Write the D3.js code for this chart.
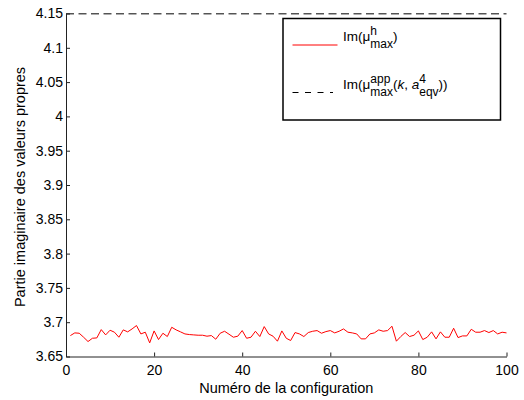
<!DOCTYPE html>
<html><head><meta charset="utf-8">
<script src="https://cdn.jsdelivr.net/npm/d3@7"></script>
<style>
body{margin:0;background:#fff;}
text{font-family:"Liberation Sans",Arial,Helvetica,sans-serif;fill:#000;white-space:pre;}
</style></head>
<body>
<svg id="c" width="524" height="400"></svg>
<script>
const configs = d3.range(1, 101);
const imHmax = [
3.6805,3.6844,3.6839,3.6781,3.6718,3.6766,3.6771,3.6892,3.6815,3.6883,
3.6854,3.6781,3.6888,3.6859,3.6902,3.6951,3.6829,3.6854,3.6699,3.6873,
3.6747,3.6839,3.6791,3.6926,3.6888,3.6859,3.6829,3.6820,3.6815,3.6810,
3.6810,3.6796,3.6805,3.6752,3.6839,3.6868,3.6825,3.6781,3.6796,3.6878,
3.6766,3.6781,3.6868,3.6791,3.6936,3.6829,3.6796,3.6723,3.6873,3.6766,
3.6733,3.6849,3.6829,3.6791,3.6849,3.6868,3.6878,3.6839,3.6863,3.6878,
3.6844,3.6868,3.6902,3.6854,3.6844,3.6829,3.6757,3.6757,3.6829,3.6844,
3.6888,3.6868,3.6878,3.6941,3.6723,3.6791,3.6849,3.6791,3.6810,3.6873,
3.6747,3.6781,3.6859,3.6757,3.6859,3.6781,3.6781,3.6912,3.6776,3.6800,
3.6800,3.6897,3.6854,3.6854,3.6878,3.6849,3.6878,3.6829,3.6854,3.6844];
const imApp = 4.1495;
const xTicks = [0,20,40,60,80,100];
const yTicks = [3.65,3.7,3.75,3.8,3.85,3.9,3.95,4,4.05,4.1,4.15];
const xLabel = "Numéro de la configuration";
const yLabel = "Partie imaginaire des valeurs propres";

const svg = d3.select("#c");
const x = d3.scaleLinear().domain([0,100]).range([66,506.5]);
const y = d3.scaleLinear().domain([3.65,4.15]).range([356.5,13.5]);
const axisColor = "#222";

// dashed line
svg.append("line")
  .attr("x1", x(0)).attr("x2", x(100))
  .attr("y1", y(imApp)).attr("y2", y(imApp))
  .attr("stroke","#000").attr("stroke-width",1).attr("stroke-dasharray","8,4.5");

// red line
svg.append("path").datum(configs.map((c,i)=>[c,imHmax[i]]))
  .attr("fill","none").attr("stroke","#ff0000").attr("stroke-width",1)
  .attr("d", d3.line().x(d=>x(d[0])).y(d=>y(d[1])));

// axes
const xAxis = d3.axisBottom(x).tickValues(xTicks).tickSizeInner(-4).tickSizeOuter(0).tickPadding(7).tickFormat(d3.format("d"));
const gx = svg.append("g").attr("transform",`translate(0,${y(3.65)})`).call(xAxis);
const yAxis = d3.axisLeft(y).tickValues(yTicks).tickSizeInner(-4).tickSizeOuter(0).tickPadding(3).tickFormat(d=>String(+d.toFixed(2)));
const gy = svg.append("g").attr("transform",`translate(${x(0)},0)`).call(yAxis);
[gx,gy].forEach(g=>{
  g.select(".domain").attr("stroke",axisColor).attr("stroke-width",1);
  g.selectAll(".tick line").attr("stroke",axisColor);
  g.selectAll(".tick text").attr("font-size",14).attr("fill","#000")
    .attr("font-family",'"Liberation Sans",Arial,sans-serif');
});
gx.selectAll(".tick text").attr("dy","0.8em");

svg.append("text").attr("x",(x(0)+x(100))/2).attr("y",393)
  .attr("text-anchor","middle").attr("font-size",14.5).text(xLabel);
svg.append("text").attr("transform",`translate(25,187) rotate(-90)`)
  .attr("text-anchor","middle").attr("font-size",14.5).text(yLabel);

// legend
const lg = svg.append("g");
lg.append("rect").attr("x",283).attr("y",18.5).attr("width",217.5).attr("height",101.5)
  .attr("fill","#fff").attr("stroke","#000").attr("stroke-width",1.5);
lg.append("line").attr("x1",292.5).attr("x2",337.5).attr("y1",45).attr("y2",45)
  .attr("stroke","#ff0000").attr("stroke-width",1);
lg.append("line").attr("x1",292.5).attr("x2",333).attr("y1",92.5).attr("y2",92.5)
  .attr("stroke","#000").attr("stroke-width",1).attr("stroke-dasharray","6,6.5");

function piece(g, xpos, ypos, str, size, italic){
  const t = g.append("text").attr("x",xpos).attr("y",ypos).attr("font-size",size).text(str);
  if(italic) t.attr("font-style","italic");
  return t.node().getComputedTextLength();
}
function entry(yb, parts){
  let cx = 343;
  parts.forEach(p=>{
    if(p.base!==undefined){ cx += piece(lg,cx,yb,p.base,13.5,p.it); }
    else {
      const w1 = piece(lg,cx,yb-6.5,p.sup,12,false);
      const w2 = piece(lg,cx,yb+6.5,p.sub,12,false);
      cx += Math.max(w1,w2);
    }
  });
}
entry(41,[{base:"Im(μ"},{sup:"h",sub:"max"},{base:")"}]);
entry(89,[{base:"Im(μ"},{sup:"app",sub:"max"},{base:"("},{base:"k",it:true},{base:", "},{base:"a",it:true},{sup:"4",sub:"eqv"},{base:"))"}]);
</script>
</body></html>
